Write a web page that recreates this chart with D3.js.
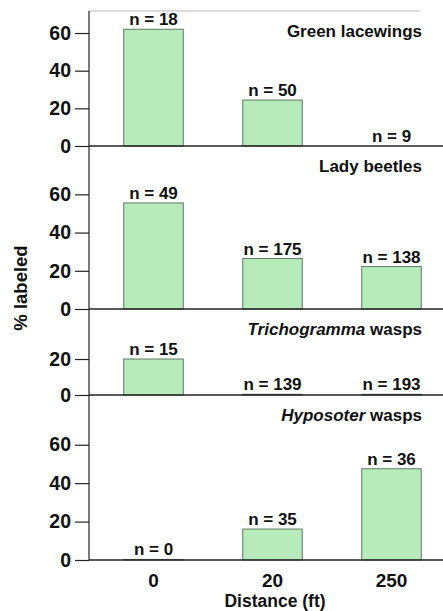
<!DOCTYPE html>
<html>
<head>
<meta charset="utf-8">
<script src="https://cdn.jsdelivr.net/npm/d3@7"></script>
<style>
  body { margin: 0; background: #fff; }
  text { font-family: "Liberation Sans", Arial, sans-serif; font-weight: bold; fill: #111; }
</style>
</head>
<body>
<div id="chart"></div>
<script>
// data
const distances = ["0", "20", "250"];
const groups = ["Green lacewings", "Lady beetles", "Trichogramma wasps", "Hyposoter wasps"];
const italicPart = ["", "", "Trichogramma", "Hyposoter"];
const lacewings = [62, 24.4, 0];
const ladyBeetles = [55.5, 26.4, 22.2];
const trichogramma = [20, 0.4, 0.4];
const hyposoter = [0.3, 16.1, 47.5];
const nLacewings = [18, 50, 9];
const nLadyBeetles = [49, 175, 138];
const nTrichogramma = [15, 139, 193];
const nHyposoter = [0, 35, 36];
const tickSets = [[0, 20, 40, 60], [0, 20, 40, 60], [0, 20], [0, 20, 40, 60]];

const values = [lacewings, ladyBeetles, trichogramma, hyposoter];
const counts = [nLacewings, nLadyBeetles, nTrichogramma, nHyposoter];

const width = 443, height = 611;
const axisX = 89;
// pixel layout of each panel: top edge, zero line, value at the top edge
const panelTop = [11, 146, 309, 395];
const panelZero = [146, 309, 395, 560];
const panelMax = [71.7, 85.3, 47.8, 85.9];

const svg = d3.select("#chart")
    .append("svg")
    .attr("width", width)
    .attr("height", height);

let x = d3.scaleBand()
    .domain(distances)
    .range([94, 451])
    .paddingInner(0.5)
    .paddingOuter(0.25);

// faint top frame
svg.append("line")
    .attr("x1", axisX).attr("x2", 420)
    .attr("y1", 11).attr("y2", 11)
    .attr("stroke", "#bbb").attr("stroke-width", 1);

groups.forEach((name, i) => {
    let y = d3.scaleLinear()
        .domain([0, panelMax[i]])
        .range([panelZero[i], panelTop[i]]);

    let g = svg.append("g");

    // y axis ticks
    let ax = g.append("g")
        .attr("transform", `translate(${axisX},0)`)
        .call(d3.axisLeft(y).tickValues(tickSets[i]).tickSize(14).tickPadding(4));
    ax.select(".domain").remove();
    ax.selectAll(".tick line").attr("stroke", "#222").attr("stroke-width", 1.2);
    ax.selectAll(".tick text")
        .attr("font-family", null)
        .style("font-size", "19.5px")
        .style("fill", "#111");
    ax.attr("font-family", null).attr("font-size", null);

    // bars
    let bar = g.selectAll(".bar")
        .data(values[i].map((v, j) => ({ d: distances[j], v: v, n: counts[i][j] })))
        .join("g")
        .attr("class", "bar");

    bar.append("rect")
        .attr("x", d => x(d.d))
        .attr("width", x.bandwidth())
        .attr("y", d => y(d.v))
        .attr("height", d => y(0) - y(d.v))
        .attr("fill", "#b7ecba")
        .attr("stroke", "#5d7a62")
        .attr("stroke-width", 1);

    bar.append("text")
        .text(d => "n = " + d.n)
        .attr("x", d => x(d.d) + x.bandwidth() / 2)
        .attr("y", d => y(d.v) - 4)
        .attr("text-anchor", "middle")
        .style("font-size", "17px");

    // zero line
    g.append("line")
        .attr("x1", axisX).attr("x2", width)
        .attr("y1", y(0)).attr("y2", y(0))
        .attr("stroke", "#222").attr("stroke-width", 1.4);

    // panel title
    let t = g.append("text")
        .attr("x", 422)
        .attr("y", panelTop[i] + 26)
        .attr("text-anchor", "end")
        .style("font-size", "17px");
    if (italicPart[i]) {
        t.append("tspan").style("font-style", "italic").text(italicPart[i]);
        t.append("tspan").text(name.slice(italicPart[i].length));
    } else {
        t.text(name);
    }
});

// vertical axis line
svg.append("line")
    .attr("x1", axisX).attr("x2", axisX)
    .attr("y1", 11).attr("y2", 560)
    .attr("stroke", "#222").attr("stroke-width", 1.2);

// x tick labels
svg.append("g")
    .selectAll("text")
    .data(distances)
    .join("text")
    .attr("x", d => x(d) + x.bandwidth() / 2)
    .attr("y", 587)
    .attr("text-anchor", "middle")
    .style("font-size", "19px")
    .text(d => d);

svg.append("text")
    .attr("x", 275)
    .attr("y", 607)
    .attr("text-anchor", "middle")
    .style("font-size", "17.5px")
    .text("Distance (ft)");

svg.append("text")
    .attr("transform", "translate(27,288) rotate(-90)")
    .attr("text-anchor", "middle")
    .style("font-size", "18.5px")
    .text("% labeled");
</script>
</body>
</html>
